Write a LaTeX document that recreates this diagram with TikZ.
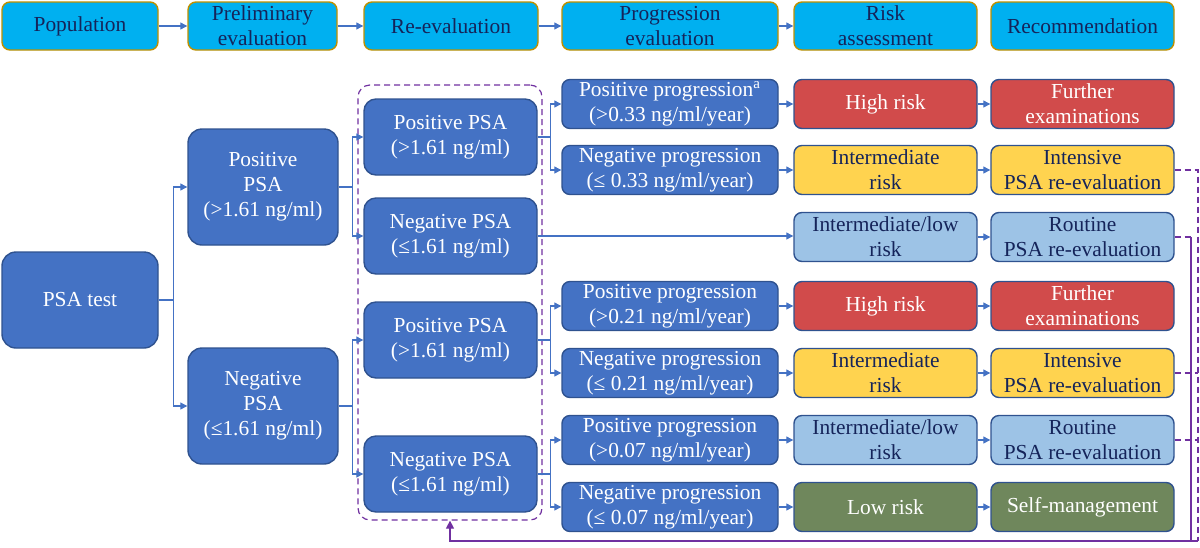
\documentclass[tikz,border=0pt]{standalone}
\usepackage{fontspec}
\setmainfont{Liberation Serif}
\usetikzlibrary{arrows.meta}
\definecolor{hcyan}{HTML}{00B0F0}
\definecolor{hgold}{HTML}{BF9000}
\definecolor{navy}{HTML}{15245A}
\definecolor{mblue}{HTML}{4472C4}
\definecolor{bdark}{HTML}{2F528F}
\definecolor{rred}{HTML}{D14B4B}
\definecolor{ryel}{HTML}{FFD34F}
\definecolor{rlb}{HTML}{9DC3E6}
\definecolor{rgreen}{HTML}{6F875C}
\definecolor{fpurp}{HTML}{7030A0}
\tikzset{
  base/.style={rounded corners=4pt, line width=0.7pt, align=center, inner sep=0pt,
    font=\fontsize{10.7}{12.5}\selectfont},
  hdr/.style={base, fill=hcyan, draw=hgold, text=navy, minimum height=24pt},
  bluebox/.style={base, fill=mblue, draw=bdark, text=white},
  bigbox/.style={bluebox, rounded corners=7pt},
  reevbox/.style={bluebox, rounded corners=6pt, minimum width=86.5pt, minimum height=38pt},
  progbox/.style={bluebox, minimum width=108pt, minimum height=24.5pt},
  riskw/.style={base, minimum width=91.5pt, minimum height=24.5pt, draw=bdark},
  redbox/.style={riskw, fill=rred, text=white},
  yelbox/.style={riskw, fill=ryel, text=navy},
  lbbox/.style={riskw, fill=rlb, text=navy},
  grbox/.style={riskw, fill=rgreen, text=white},
  conn/.style={draw=mblue, line width=0.6pt, -{Triangle[length=3.5pt,width=3.5pt]}},
  fbdash/.style={draw=fpurp, line width=0.6pt, dash pattern=on 3pt off 2pt},
  fbsolid/.style={draw=fpurp, line width=0.6pt},
}
\begin{document}
\begin{tikzpicture}[x=0.5pt,y=-0.5pt]
\useasboundingbox (0,0) rectangle (1200,547);
% header
\node[hdr, minimum width=78pt] (h1) at (80,26) {Population};
\node[hdr, minimum width=74.5pt] (h2) at (262.5,26) {Preliminary\\evaluation};
\node[hdr, minimum width=87pt] (h3) at (451,26) {Re-evaluation};
\node[hdr, minimum width=108pt] (h4) at (670,26) {Progression\\evaluation};
\node[hdr, minimum width=91.5pt] (h5) at (885.5,26) {Risk\\assessment};
\node[hdr, minimum width=91.5pt] (h6) at (1082.5,26) {Recommendation};
\draw[conn] (h1) -- (h2);
\draw[conn] (h2) -- (h3);
\draw[conn] (h3) -- (h4);
\draw[conn] (h4) -- (h5);
% dashed group
\node[draw=fpurp, line width=0.6pt, dash pattern=on 3pt off 2pt, rounded corners=6pt,
  minimum width=92pt, minimum height=217.5pt, inner sep=0pt] (dbox) at (450,302.5) {};
% left
\node[bigbox, minimum width=78pt, minimum height=48pt] (psa) at (80,300) {PSA test};
\node[bigbox, minimum width=75pt, minimum height=58pt] (pos1) at (263,187) {Positive\\PSA\\(>1.61 ng/ml)};
\node[bigbox, minimum width=75pt, minimum height=58pt] (neg1) at (263,406) {Negative\\PSA\\(≤1.61 ng/ml)};
% re-evaluation
\node[reevbox] (r1) at (450.5,137) {Positive PSA\\(>1.61 ng/ml)};
\node[reevbox] (r2) at (450.5,236) {Negative PSA\\(≤1.61 ng/ml)};
\node[reevbox] (r3) at (450.5,340) {Positive PSA\\(>1.61 ng/ml)};
\node[reevbox] (r4) at (450.5,474) {Negative PSA\\(≤1.61 ng/ml)};
% progression
\node[progbox] (p1) at (670,104) {Positive progression\textsuperscript{a}\\(>0.33 ng/ml/year)};
\node[progbox] (p2) at (670,170) {Negative progression\\(≤ 0.33 ng/ml/year)};
\node[progbox] (p4) at (670,306) {Positive progression\\(>0.21 ng/ml/year)};
\node[progbox] (p5) at (670,373) {Negative progression\\(≤ 0.21 ng/ml/year)};
\node[progbox] (p6) at (670,440) {Positive progression\\(>0.07 ng/ml/year)};
\node[progbox] (p7) at (670,507) {Negative progression\\(≤ 0.07 ng/ml/year)};
% risk
\node[redbox] (k1) at (885.5,104) {High risk};
\node[yelbox] (k2) at (885.5,170) {Intermediate\\risk};
\node[lbbox] (k3) at (885.5,237) {Intermediate/low\\risk};
\node[redbox] (k4) at (885.5,306) {High risk};
\node[yelbox] (k5) at (885.5,373) {Intermediate\\risk};
\node[lbbox] (k6) at (885.5,440) {Intermediate/low\\risk};
\node[grbox] (k7) at (885.5,507) {Low risk};
% recommendation
\node[redbox] (c1) at (1082.5,104) {Further\\examinations};
\node[yelbox] (c2) at (1082.5,170) {Intensive\\PSA re-evaluation};
\node[lbbox] (c3) at (1082.5,237) {Routine\\PSA re-evaluation};
\node[redbox] (c4) at (1082.5,306) {Further\\examinations};
\node[yelbox] (c5) at (1082.5,373) {Intensive\\PSA re-evaluation};
\node[lbbox] (c6) at (1082.5,440) {Routine\\PSA re-evaluation};
\node[grbox] (c7) at (1082.5,507) {Self-management};
% forks
\draw[conn] (psa.east) -- ++(15,0) |- (pos1.west);
\draw[conn] (psa.east) -- ++(15,0) |- (neg1.west);
\draw[conn] (pos1.east) -- ++(14,0) |- (r1.west);
\draw[conn] (pos1.east) -- ++(14,0) |- (r2.west);
\draw[conn] (neg1.east) -- ++(14,0) |- (r3.west);
\draw[conn] (neg1.east) -- ++(14,0) |- (r4.west);
\draw[conn] (r1.east) -- ++(13,0) |- (p1.west);
\draw[conn] (r1.east) -- ++(13,0) |- (p2.west);
\draw[conn] (r3.east) -- ++(13,0) |- (p4.west);
\draw[conn] (r3.east) -- ++(13,0) |- (p5.west);
\draw[conn] (r4.east) -- ++(13,0) |- (p6.west);
\draw[conn] (r4.east) -- ++(13,0) |- (p7.west);
\draw[conn] (r2.east) -- (r2.east -| k3.west);
% progression -> risk -> recommendation
\foreach \i in {1,2,4,5,6,7} { \draw[conn] (p\i) -- (k\i); }
\foreach \i in {1,...,7} { \draw[conn] (k\i) -- (c\i); }
% feedback
\coordinate (cR) at (1198,541);
\coordinate (cS) at (1191,541);
\draw[fbdash] (c2.east) -| (cR);
\draw[fbdash] (c3.east) -- (c3.east -| cS);
\draw[fbsolid] (c3.east -| cS) -- (cS);
\draw[fbdash] (c5.east) -- (c5.east -| cR);
\draw[fbdash] (c6.east) -- (c6.east -| cR);
\draw[fbsolid, -{Triangle[length=4pt,width=4pt]}] (cR) -- (cR -| dbox.south) -- (dbox.south);
\end{tikzpicture}
\end{document}
